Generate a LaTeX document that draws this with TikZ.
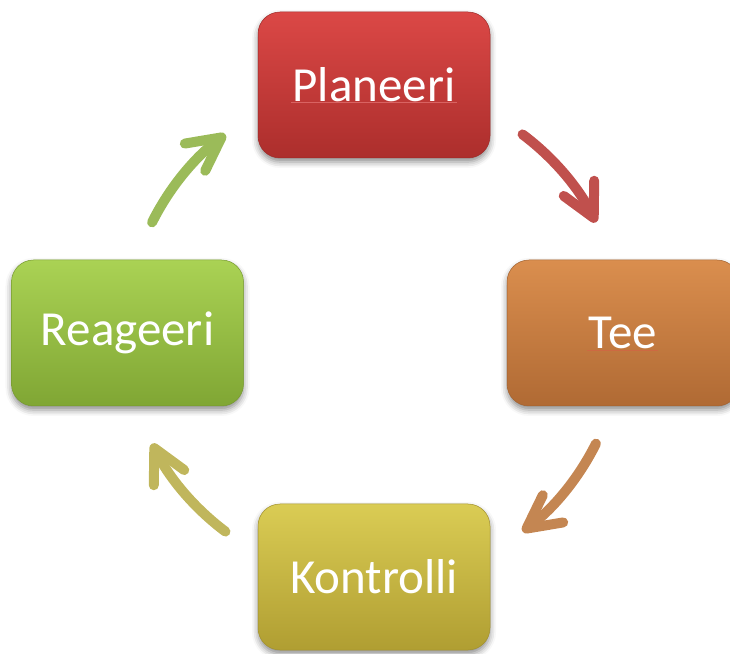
\documentclass[tikz,border=0pt]{standalone}
\usepackage{fontspec}
\setmainfont{Carlito}
\usetikzlibrary{arrows.meta,shadows.blur}

% box fills (top / bottom of the gradient) and arrow colours
\definecolor{redTop}{RGB}{219,72,70}
\definecolor{redBot}{RGB}{172,46,44}
\definecolor{orangeTop}{RGB}{218,142,78}
\definecolor{orangeBot}{RGB}{176,106,52}
\definecolor{greenTop}{RGB}{170,210,84}
\definecolor{greenBot}{RGB}{128,166,52}
\definecolor{yellowTop}{RGB}{218,204,84}
\definecolor{yellowBot}{RGB}{176,158,50}
\definecolor{redArrow}{RGB}{192,80,77}
\definecolor{orangeArrow}{RGB}{196,134,82}
\definecolor{greenArrow}{RGB}{155,187,89}
\definecolor{yellowArrow}{RGB}{192,182,92}
\definecolor{markPink}{RGB}{236,128,128}
\definecolor{markRed}{RGB}{214,96,70}

\tikzset{
  x=1pt, y=1pt,
  stagebox/.style={
    rounded corners=22pt, minimum width=232pt, minimum height=146pt,
    inner sep=0pt, text=white, font=\fontsize{49}{55}\selectfont,
    blur shadow={shadow xshift=0pt, shadow yshift=-4pt,
                 shadow blur radius=6pt, shadow opacity=45},
    draw=#1Bot!92!black, line width=0.5pt,
    top color=#1Top, bottom color=#1Bot},
  cyclearrow/.style={
    draw=#1, line width=10pt, line cap=round,
    -{Straight Barb[length=33pt,width=34pt,round]}},
  squiggle/.style={draw=#1, line width=0.6pt, opacity=0.6}
}

\begin{document}
\begin{tikzpicture}
  \useasboundingbox (0,0) rectangle (730,653);
  \clip (0,0) rectangle (730,653);

  % the four stages
  \node[stagebox=red]    (plan)  at (374,568)   {Planeeri};
  \node[stagebox=orange] (tee)   at (623,320)   {Tee};
  \node[stagebox=yellow] (kontr) at (374,76)    {Kontrolli};
  \node[stagebox=green]  (reag)  at (127.5,320) {Reageeri};

  % spell-check marks under two of the labels
  \draw[squiggle=markPink] ([xshift=-83pt,yshift=-17.5pt]plan.center) -- ([xshift=83pt,yshift=-17.5pt]plan.center);
  \draw[squiggle=markRed]  ([xshift=-36pt,yshift=-17.5pt]tee.center)  -- ([xshift=35pt,yshift=-17.5pt]tee.center);

  % arrows running clockwise round the cycle
  \coordinate (mid) at (374,320);
  \draw[cyclearrow=redArrow]    (mid) ++(53.2:248)  arc[start angle=53.2,  end angle=26.5,  radius=248];
  \draw[cyclearrow=orangeArrow] (mid) ++(-26.5:248) arc[start angle=-26.5, end angle=-53.2, radius=248];
  \draw[cyclearrow=yellowArrow] (mid) ++(-126.8:248) arc[start angle=-126.8, end angle=-153.5, radius=248];
  \draw[cyclearrow=greenArrow]  (mid) ++(153.5:248) arc[start angle=153.5, end angle=126.8, radius=248];
\end{tikzpicture}
\end{document}
